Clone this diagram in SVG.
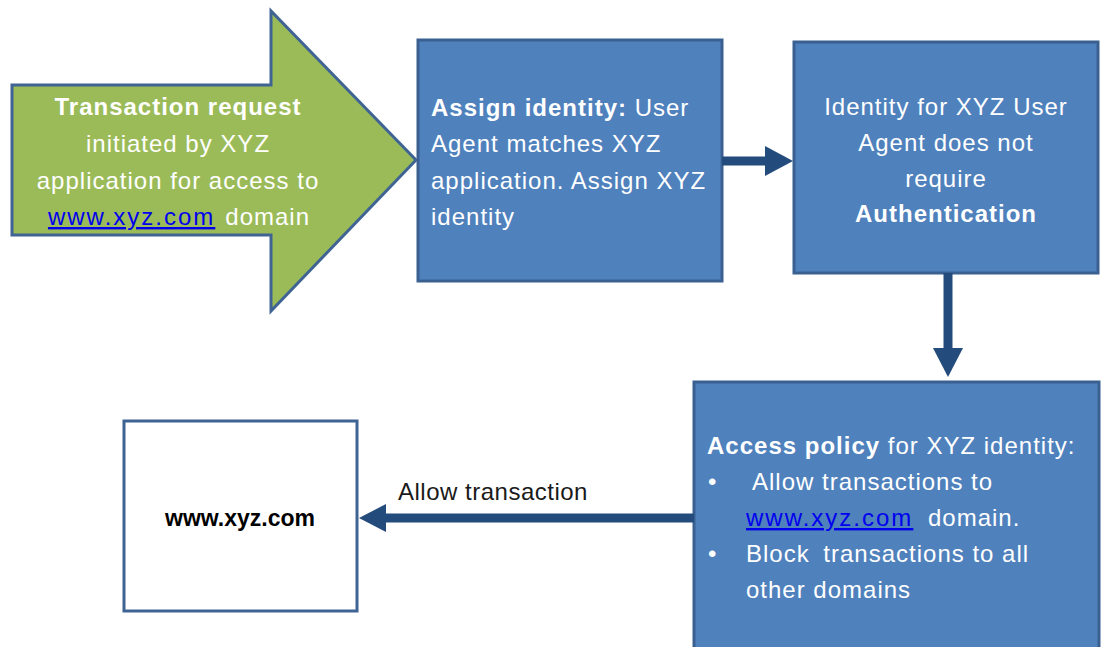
<svg xmlns="http://www.w3.org/2000/svg" width="1103" height="647" viewBox="0 0 1103 647">
<style>
.box{fill:#4F81BD;stroke:#3A6092;stroke-width:3}
.wt{font-family:"Liberation Sans",Arial,sans-serif;font-size:24px;fill:#FFFFFF;letter-spacing:1px}
.b{font-weight:bold}
.lnk{fill:#0000EE;text-decoration:underline}
.conn{stroke:#234B7C;stroke-width:9;fill:none}
.head{fill:#234B7C}
</style>
<rect width="1103" height="647" fill="#FFFFFF"/>
<g id="request">
<polygon points="12,85 271,85 271,11 416,160 271,311 271,235 12,235" fill="#9BBB59" stroke="#3F6494" stroke-width="3"/>
<text class="wt" text-anchor="middle"><tspan class="b" x="178" y="115">Transaction request</tspan><tspan x="178" y="152">initiated by XYZ</tspan><tspan x="178" y="189">application for access to</tspan><tspan x="179" y="225"><tspan class="lnk" letter-spacing="2px">www.xyz.com</tspan><tspan dx="10">domain</tspan></tspan></text>
</g>
<g id="assign">
<rect class="box" x="418" y="40" width="304" height="241"/>
<text class="wt"><tspan x="431" y="116"><tspan class="b">Assign identity:</tspan> User</tspan><tspan x="431" y="152">Agent matches XYZ</tspan><tspan x="431" y="189">application. Assign XYZ</tspan><tspan x="431" y="225">identity</tspan></text>
</g>
<g id="auth">
<rect class="box" x="794" y="42" width="304" height="231"/>
<text class="wt" text-anchor="middle"><tspan x="946" y="115">Identity for XYZ User</tspan><tspan x="946" y="151">Agent does not</tspan><tspan x="946" y="187">require</tspan><tspan class="b" x="946" y="222">Authentication</tspan></text>
</g>
<g id="policy">
<rect class="box" x="694" y="382" width="405" height="290"/>
<text class="wt"><tspan x="707" y="454"><tspan class="b">Access policy</tspan> for XYZ identity:</tspan><tspan x="708" y="490">•</tspan><tspan x="752" y="490">Allow transactions to</tspan><tspan x="746" y="526"><tspan class="lnk" letter-spacing="2px">www.xyz.com</tspan><tspan x="928">domain.</tspan></tspan><tspan x="708" y="562">•</tspan><tspan x="746" y="562">Block <tspan dx="6">transactions to all</tspan></tspan><tspan x="746" y="598">other domains</tspan></text>
</g>
<g id="site">
<rect x="124" y="421" width="233" height="190" fill="#FFFFFF" stroke="#3F6494" stroke-width="3"/>
<text x="240" y="526" text-anchor="middle" font-family="'Liberation Sans',Arial,sans-serif" font-size="23" font-weight="bold" fill="#000000">www.xyz.com</text>
</g>
<g id="connectors">
<line class="conn" x1="722" y1="161" x2="768" y2="161"/>
<polygon class="head" points="765,146 793,161 765,176"/>
<line class="conn" x1="948" y1="273" x2="948" y2="350"/>
<polygon class="head" points="933,348 963,348 948,377"/>
<line class="conn" x1="694" y1="518" x2="383" y2="518"/>
<polygon class="head" points="386,504 386,532 359,518"/>
<text x="398" y="500" font-family="'Liberation Sans',Arial,sans-serif" font-size="24" letter-spacing="0.5" fill="#1A1A1A">Allow transaction</text>
</g>
</svg>
